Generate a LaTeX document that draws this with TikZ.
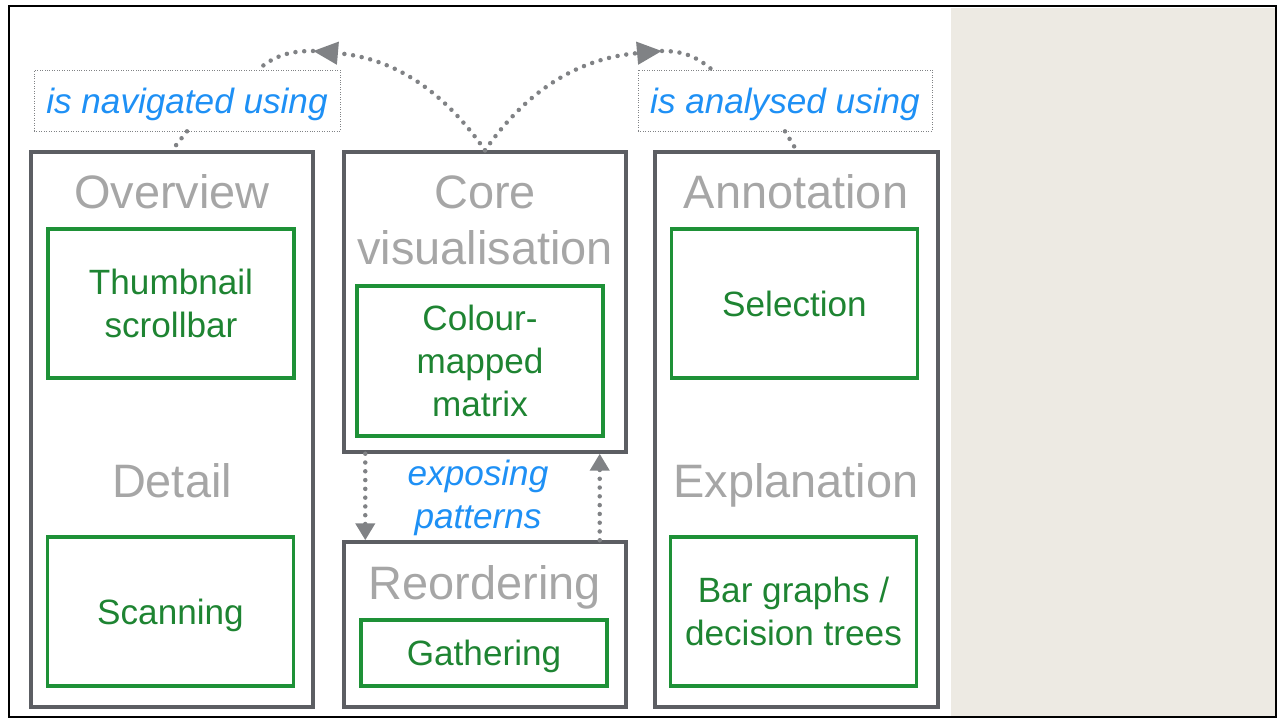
\documentclass[tikz,border=0pt]{standalone}
\usepackage{fontspec}
\setmainfont{Liberation Sans}
\usepackage{tikz}
\usetikzlibrary{arrows.meta, positioning, calc}

\definecolor{panelgray}{RGB}{92,94,99}
\definecolor{titlegray}{RGB}{166,166,166}
\definecolor{boxgreen}{RGB}{30,145,55}
\definecolor{textgreen}{RGB}{30,132,50}
\definecolor{linkblue}{RGB}{30,144,245}
\definecolor{arrowgray}{RGB}{128,130,133}
\definecolor{beige}{RGB}{237,234,227}

\begin{document}
\begin{tikzpicture}[
  x=0.02cm, y=-0.02cm,
  panel/.style={rectangle, draw=panelgray, line width=0.07cm,
                minimum width=5.64cm, inner sep=0pt},
  title/.style={anchor=base, text=titlegray,
                font=\fontsize{26.7}{32}\selectfont},
  part/.style={rectangle, draw=boxgreen, line width=0.065cm,
               minimum width=4.92cm, inner sep=0pt, align=center,
               text depth=0pt, text=textgreen,
               font=\fontsize{20}{24.5}\selectfont},
  verb/.style={rectangle, draw=arrowgray, densely dotted, thin,
               minimum height=1.22cm, inner sep=0pt, text depth=0pt,
               text=linkblue, font=\fontsize{20}{24.5}\selectfont\itshape},
  link/.style={draw=arrowgray, line width=0.09cm, line cap=round,
               dash pattern=on 0pt off 5pt},
  tip/.style={-{Triangle[length=0.5cm, width=0.44cm]}},
  smalltip/.style={-{Triangle[length=0.34cm, width=0.38cm]}}
]
\useasboundingbox (0,0) rectangle (1278,719);
\fill[beige] (951,8) rectangle (1275,717);
\draw[black, line width=0.04cm] (9,6) rectangle (1276,717);

% panels
\node[panel, minimum height=11.1cm] (ov) at (172,429.5) {};
\node[panel, minimum height=6cm] (core) at (485,302) {};
\node[panel, minimum height=3.3cm] (reord) at (485,624.5) {};
\node[panel, minimum width=5.66cm, minimum height=11.1cm] (ann) at (796.5,429.5) {};

\node[title] (ovt)   at (172,209) {Overview};
\node[title] (dett)  at (172,498) {Detail};
\node[title] (coret) at (485,209) {Core};
\node[title] (vist)  at (485,265) {visualisation};
\node[title] (reot)  at (485,599) {Reordering};
\node[title] (annt)  at (796,209) {Annotation};
\node[title] (expt)  at (796,498) {Explanation};

% techniques
\node[part, minimum height=2.98cm] (thumb)  at (171,303.5) {Thumbnail\\scrollbar};
\node[part, minimum height=2.98cm] (scan)   at (170.5,611.5) {Scanning};
\node[part, minimum height=3cm]    (matrix) at (480,361) {Colour-\\mapped\\matrix};
\node[part, minimum height=1.32cm] (gath)   at (484,653) {Gathering};
\node[part, minimum height=2.98cm] (sel)    at (794.5,303.5) {Selection};
\node[part, minimum height=2.98cm] (bars)   at (793.5,611.5) {Bar graphs /\\decision trees};

% relations
\node[verb, minimum width=6.12cm] (nav) at (187,100.5) {is navigated using};
\node[verb, minimum width=5.88cm] (ana) at (785,100.5) {is analysed using};
\node[align=center, text=linkblue, font=\fontsize{20}{24.5}\selectfont\itshape]
  (expo) at (478,498) {exposing\\patterns};

\coordinate (navtip) at (313,51);
\coordinate (anatip) at (662,51);

\draw[link, tip] (core.north) to[out=125, in=-5] (navtip);
\draw[link] (navtip) to[out=180, in=40] ($(nav.north)+(71,0)$);
\draw[link] (nav.south) -- (ov.north);
\draw[link, tip] (core.north) to[out=55, in=185] (anatip);
\draw[link] (anatip) to[out=0, in=140] ($(ana.north)-(73,0)$);
\draw[link] (ana.south) -- (ann.north);

\draw[link, smalltip] ($(core.south west)+(23,0)$) -- ($(reord.north west)+(23,0)$);
\draw[link, smalltip] ($(reord.north east)-(28,0)$) -- ($(core.south east)-(28,0)$);
\end{tikzpicture}
\end{document}
